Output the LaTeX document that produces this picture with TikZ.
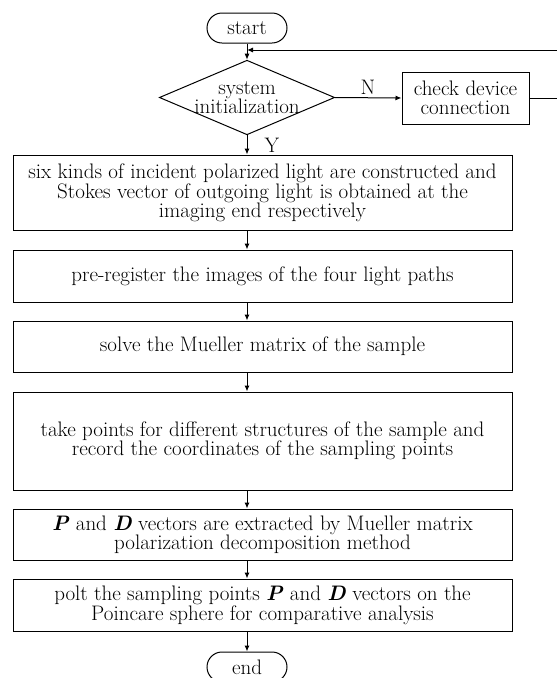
\documentclass[tikz,border=0pt]{standalone}
\usepackage{fontspec}
\usetikzlibrary{shapes.geometric,arrows.meta}
\begin{document}
\begin{tikzpicture}[x=1pt,y=-1pt,line width=1pt,
  font={\fontsize{21}{19}\selectfont},
  >={Latex[length=6pt,width=5pt]},
  term/.style={draw,rounded corners=15pt,minimum width=80pt,minimum height=30pt,inner sep=0pt},
  stepbox/.style={draw,align=center,minimum width=499pt,inner sep=2pt},
  decision/.style={draw,shape=diamond,aspect=2.35,align=center,inner sep=-0.8pt}]
\useasboundingbox (0,0) rectangle (557,678);
%start and check
\node[term] (start) at (247,28) {start};
\node[decision] (init) at (247,97.5) {system\\initialization};
\node[draw,align=center,minimum width=127pt,minimum height=52pt,inner sep=1pt] (check) at (465.5,98) {check device\\connection};
\coordinate (back) at (247,50);
\node (N) at (368,87) {N};
\node (Y) at (272,145) {Y};
%main steps
\node[stepbox,minimum height=75pt] (s1) at (262.5,192.5) {six kinds of incident polarized light are constructed and\\Stokes vector of outgoing light is obtained at the\\imaging end respectively};
\node[stepbox,minimum height=52pt] (s2) at (262.5,276) {pre-register the images of the four light paths};
\node[stepbox,minimum height=51pt] (s3) at (262.5,346.5) {solve the Mueller matrix of the sample};
\node[stepbox,minimum height=98pt] (s4) at (262.5,441) {take points for different structures of the sample and\\record the coordinates of the sampling points};
\node[stepbox,minimum height=51pt] (s5) at (262.5,534.5) {\textbf{\textit{P}} and \textbf{\textit{D}} vectors are extracted by Mueller matrix\\polarization decomposition method};
\node[stepbox,minimum height=52pt] (s6) at (262.5,605) {polt the sampling points \textbf{\textit{P}} and \textbf{\textit{D}} vectors on the\\Poincare sphere for comparative analysis};
\node[term] (end) at (247,667) {end};
%arrows
\draw[->] (start.south) -- (init.north);
\draw[->] (init.east) -- (check.west);
\draw[->] (check.east) -- ++(33,0) |- (back);
\draw[->] (init.south) -- (init.south |- s1.north);
\draw[->] (s1.south -| start) -- (s2.north -| start);
\draw[->] (s2.south -| start) -- (s3.north -| start);
\draw[->] (s3.south -| start) -- (s4.north -| start);
\draw[->] (s4.south -| start) -- (s5.north -| start);
\draw[->] (s5.south -| start) -- (s6.north -| start);
\draw[->] (s6.south -| start) -- (end.north);
\end{tikzpicture}
\end{document}
